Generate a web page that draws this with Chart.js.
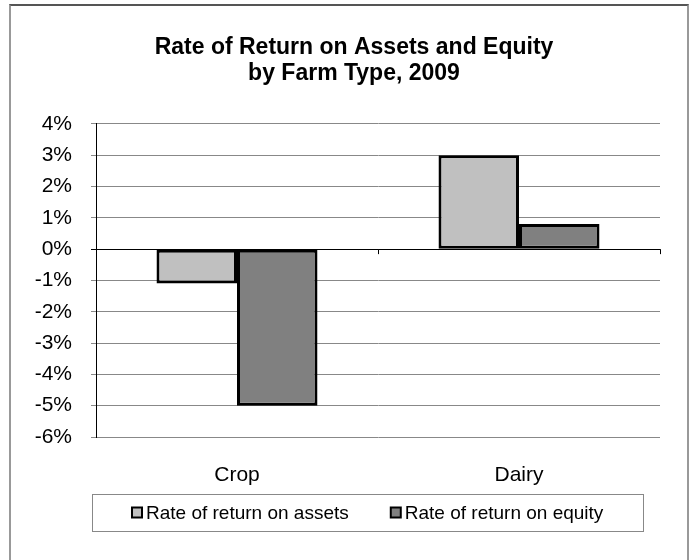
<!DOCTYPE html>
<html lang="en">
<head>
    <meta charset="UTF-8">
    <title>Rate of Return on Assets and Equity by Farm Type, 2009</title>
    <script src="https://cdn.jsdelivr.net/npm/chart.js"></script>
    <style>
        body { margin: 0; background: #fff; }
        #frame { position: absolute; left: 9px; top: 4px; width: 676px; height: 600px;
                 border-top: 2px solid #555; border-left: 2px solid #999; border-right: 2px solid #999; }
        #wrap { position: absolute; left: 0; top: 0; width: 696px; height: 560px; }
    </style>
</head>
<body>
    <div id="frame"></div>
    <div id="wrap"><canvas id="Chart" width="696" height="560"></canvas></div>
    <script>
        const categories = ['Crop', 'Dairy'];
        const assetsReturn = [-1.1, 3.0];
        const equityReturn = [-5.0, 0.8];
        const seriesNames = ['Rate of return on assets', 'Rate of return on equity'];
        const yMin = -6, yMax = 4;

        const fontFamily = "'Liberation Sans', Arial, sans-serif";

        // legend in a box under the plot, Excel style
        const legendBox = {
            id: 'legendBox',
            afterDraw(chart) {
                const { ctx, chartArea } = chart;
                const left = chartArea.left - 4, right = chartArea.right - 17;
                const top = chartArea.bottom + 57, h = 37;
                ctx.save();
                ctx.strokeStyle = '#888';
                ctx.lineWidth = 1;
                ctx.strokeRect(left + 0.5, top + 0.5, right - left, h);

                ctx.font = '19px ' + fontFamily;
                ctx.textBaseline = 'middle';
                const gap = 42, box = 10;
                const widths = chart.data.datasets.map(d => box + 4 + ctx.measureText(d.label).width);
                const total = widths.reduce((a, b) => a + b, 0) + gap * (widths.length - 1);
                let x = Math.round((left + right) / 2 - total / 2);
                const cy = top + h / 2;
                chart.data.datasets.forEach((d, i) => {
                    ctx.fillStyle = d.backgroundColor;
                    ctx.fillRect(x, cy - box / 2, box, box);
                    ctx.strokeStyle = '#000';
                    ctx.lineWidth = 2;
                    ctx.strokeRect(x, cy - box / 2, box, box);
                    ctx.fillStyle = '#000';
                    ctx.fillText(d.label, x + box + 4, cy + 1);
                    x += widths[i] + gap;
                });

                // small category tick marks on the zero line
                const xs = chart.scales.x, ys = chart.scales.y;
                const y0 = ys.getPixelForValue(0);
                ctx.strokeStyle = '#000';
                ctx.lineWidth = 1;
                [0.5, 1.5].forEach(v => {
                    const px = Math.round(xs.getPixelForValue(v)) + 0.5;
                    ctx.beginPath();
                    ctx.moveTo(px, y0);
                    ctx.lineTo(px, y0 + 5);
                    ctx.stroke();
                });
                ctx.restore();
            }
        };

        new Chart(document.getElementById('Chart').getContext('2d'), {
            type: 'bar',
            data: {
                labels: categories,
                datasets: [{
                    label: seriesNames[0],
                    data: assetsReturn,
                    backgroundColor: '#c0c0c0',
                    borderColor: '#000',
                    borderWidth: 3,
                    borderSkipped: false,
                    categoryPercentage: 0.571,
                    barPercentage: 1.0
                }, {
                    label: seriesNames[1],
                    data: equityReturn,
                    backgroundColor: '#808080',
                    borderColor: '#000',
                    borderWidth: 3,
                    borderSkipped: false,
                    categoryPercentage: 0.571,
                    barPercentage: 1.0
                }]
            },
            options: {
                responsive: false,
                animation: false,
                layout: { padding: { left: 12, right: 0, top: 0, bottom: 71 } },
                plugins: {
                    legend: { display: false },
                    tooltip: { enabled: false },
                    title: {
                        display: true,
                        text: ['Rate of Return on Assets and Equity', 'by Farm Type, 2009'],
                        color: '#000',
                        font: { family: fontFamily, size: 23, weight: 'bold', lineHeight: 1.15 },
                        padding: { top: 34, bottom: 37 }
                    }
                },
                scales: {
                    x: {
                        grid: { display: false, drawTicks: false },
                        border: { display: false },
                        ticks: { color: '#000', font: { family: fontFamily, size: 21 }, padding: 26 },
                        afterFit: s => { s.height = 52; }
                    },
                    y: {
                        min: yMin,
                        max: yMax,
                        ticks: {
                            stepSize: 1,
                            color: '#000',
                            padding: 19,
                            font: { family: fontFamily, size: 21 },
                            callback: v => v + '%'
                        },
                        grid: {
                            color: c => c.tick && c.tick.value === 0 ? '#000' : '#888',
                            tickColor: c => c.tick && c.tick.value === 0 ? '#000' : '#888',
                            tickLength: 5
                        },
                        border: { display: true, color: '#000', width: 1 },
                        afterFit: s => { s.width = 84; }
                    },
                    // empty right-hand axis, only keeps the right margin of the plot
                    yRight: {
                        position: 'right',
                        grid: { display: false },
                        ticks: { display: false },
                        border: { display: false },
                        afterFit: s => { s.width = 36; }
                    }
                }
            },
            plugins: [legendBox]
        });
    </script>
</body>
</html>
